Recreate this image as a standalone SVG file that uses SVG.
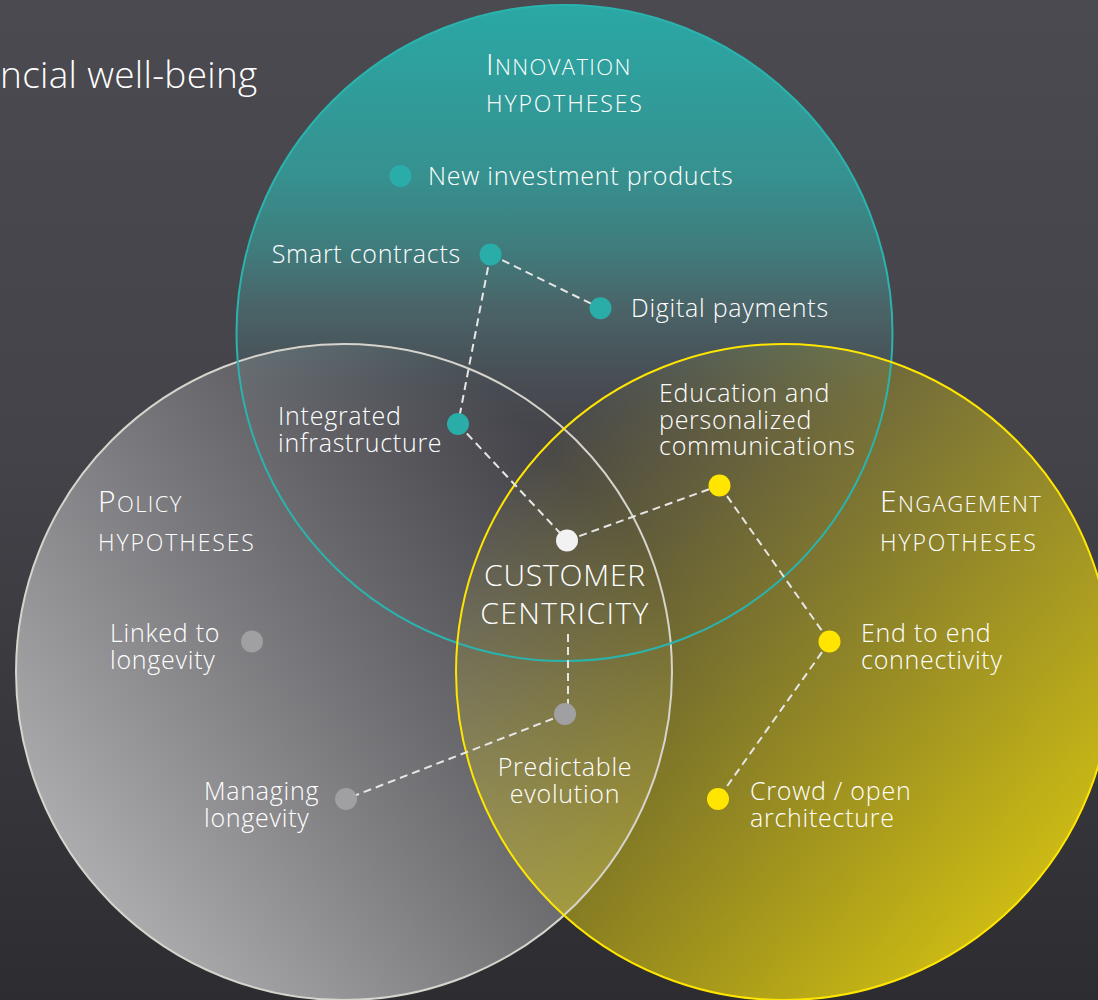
<svg xmlns="http://www.w3.org/2000/svg" width="1098" height="1000" viewBox="0 0 1098 1000">
  <defs>
    <linearGradient id="bg" x1="0" y1="0" x2="0" y2="1">
      <stop offset="0" stop-color="#4b4a50"/>
      <stop offset="0.45" stop-color="#444349"/>
      <stop offset="1" stop-color="#2c2c31"/>
    </linearGradient>
    <linearGradient id="tealFill" x1="0" y1="0" x2="0" y2="1">
      <stop offset="0" stop-color="#2aa8a5"/>
      <stop offset="0.26" stop-color="#36918f"/>
      <stop offset="0.375" stop-color="#407b7c"/>
      <stop offset="0.46" stop-color="#4a6468"/>
      <stop offset="0.57" stop-color="#484f55" stop-opacity="0.9"/>
      <stop offset="0.7" stop-color="#46464c" stop-opacity="0"/>
    </linearGradient>
    <linearGradient id="greyFill" x1="0.12" y1="0.88" x2="0.85" y2="0.2">
      <stop offset="0" stop-color="#ffffff" stop-opacity="0.62"/>
      <stop offset="1" stop-color="#ffffff" stop-opacity="0"/>
    </linearGradient>
    <linearGradient id="yellowFill" x1="0.88" y1="0.88" x2="0.15" y2="0.15">
      <stop offset="0" stop-color="#e0cc10" stop-opacity="0.92"/>
      <stop offset="1" stop-color="#e0cc10" stop-opacity="0.04"/>
    </linearGradient>
    <style>
      text { font-family: "Open Sans", "Liberation Sans", sans-serif; font-weight: 300; fill: #ffffff; }
      .lbl { font-size: 25px; letter-spacing: 0.75px; }
      .head { font-size: 22px; letter-spacing: 1.4px; }
      .head2 { font-size: 23px; letter-spacing: 1.9px; }
      .cap { font-size: 30px; }
      .centre { font-size: 30px; letter-spacing: 0.8px; text-anchor: middle; }
      .title { font-size: 37px; letter-spacing: 0.3px; }
      .ring { fill: none; stroke-width: 2; }
      .dash { stroke: #e6e6e6; stroke-width: 2; stroke-dasharray: 8 5; fill: none; }
      .teal { fill: #2aada8; }
      .yellow { fill: #ffe500; }
      .grey { fill: #a0a0a3; }
      .white { fill: #f2f2f2; }
    </style>
  </defs>

  <rect width="1098" height="1000" fill="url(#bg)"/>

  <text class="title" x="0" y="88">ncial well-being</text>

  <!-- circle fills -->
  <g id="regions">
    <circle id="innovation-fill" cx="564.5" cy="333" r="328" fill="url(#tealFill)"/>
    <circle id="policy-fill" cx="344" cy="672" r="328" fill="url(#greyFill)"/>
    <circle id="engagement-fill" cx="784" cy="672" r="328" fill="url(#yellowFill)"/>
  </g>

  <!-- circle outlines -->
  <g id="outlines">
    <circle class="ring" cx="344" cy="672" r="328" stroke="#d6d4cc"/>
    <circle class="ring" cx="564.5" cy="333" r="328" stroke="#2bb3ad"/>
    <circle class="ring" cx="784" cy="672" r="328" stroke="#ffe600"/>
  </g>

  <!-- dashed links between hypotheses -->
  <g id="connectors">
    <line class="dash" x1="490.5" y1="254.5" x2="600.5" y2="308.3"/>
    <line class="dash" x1="490.5" y1="254.5" x2="458" y2="424"/>
    <line class="dash" x1="458" y1="424" x2="567" y2="540.5"/>
    <line class="dash" x1="567" y1="540.5" x2="719.5" y2="485.5"/>
    <line class="dash" x1="719.5" y1="485.5" x2="829.5" y2="641.5"/>
    <line class="dash" x1="829.5" y1="641.5" x2="718" y2="799"/>
    <line class="dash" x1="568" y1="634" x2="568" y2="705"/>
    <line class="dash" x1="565" y1="714" x2="346" y2="799"/>
  </g>

  <!-- headings -->
  <g id="innovation-heading">
    <text x="486" y="75"><tspan class="head"><tspan class="cap">I</tspan>NNOVATION</tspan><tspan class="head2" x="486" dy="37">HYPOTHESES</tspan></text>
  </g>
  <g id="policy-heading">
    <text x="98" y="512"><tspan class="head"><tspan class="cap">P</tspan>OLICY</tspan><tspan class="head2" x="98" dy="39">HYPOTHESES</tspan></text>
  </g>
  <g id="engagement-heading">
    <text x="880" y="512"><tspan class="head"><tspan class="cap">E</tspan>NGAGEMENT</tspan><tspan class="head2" x="880" dy="39">HYPOTHESES</tspan></text>
  </g>

  <!-- innovation nodes -->
  <g id="new-investment-products">
    <circle class="teal" cx="400.5" cy="176" r="11"/>
    <text class="lbl" x="428" y="185">New investment products</text>
  </g>
  <g id="smart-contracts">
    <circle class="teal" cx="490.5" cy="254.5" r="11"/>
    <text class="lbl" x="461" y="263" text-anchor="end" letter-spacing="1.4">Smart contracts</text>
  </g>
  <g id="digital-payments">
    <circle class="teal" cx="600.5" cy="308.3" r="11"/>
    <text class="lbl" x="631" y="317">Digital payments</text>
  </g>
  <g id="integrated-infrastructure">
    <circle class="teal" cx="458" cy="424" r="11"/>
    <text class="lbl" x="278" y="425">Integrated<tspan x="278" dy="26.5">infrastructure</tspan></text>
  </g>

  <!-- engagement nodes -->
  <g id="education">
    <circle class="yellow" cx="719.5" cy="485.5" r="11"/>
    <text class="lbl" x="659" y="402">Education and<tspan x="659" dy="26.5">personalized</tspan><tspan x="659" dy="26.5">communications</tspan></text>
  </g>
  <g id="end-to-end">
    <circle class="yellow" cx="829.5" cy="641.5" r="11"/>
    <text class="lbl" x="861" y="642">End to end<tspan x="861" dy="26.5">connectivity</tspan></text>
  </g>
  <g id="crowd-open">
    <circle class="yellow" cx="718" cy="799" r="11"/>
    <text class="lbl" x="750" y="800">Crowd / open<tspan x="750" dy="26.5">architecture</tspan></text>
  </g>

  <!-- policy nodes -->
  <g id="linked-to-longevity">
    <circle class="grey" cx="252" cy="641.5" r="11"/>
    <text class="lbl" x="110" y="642">Linked to<tspan x="110" dy="26.5">longevity</tspan></text>
  </g>
  <g id="managing-longevity">
    <circle class="grey" cx="346" cy="799" r="11"/>
    <text class="lbl" x="204" y="800">Managing<tspan x="204" dy="26.5">longevity</tspan></text>
  </g>
  <g id="predictable-evolution">
    <circle class="grey" cx="565" cy="714" r="11"/>
    <text class="lbl" x="565" y="776" text-anchor="middle">Predictable<tspan x="565" dy="26.5">evolution</tspan></text>
  </g>

  <!-- centre -->
  <g id="customer-centricity">
    <circle class="white" cx="567" cy="540.5" r="11"/>
    <text class="centre" x="565" y="586">CUSTOMER<tspan x="565" dy="37.5" letter-spacing="1.4">CENTRICITY</tspan></text>
  </g>
</svg>
